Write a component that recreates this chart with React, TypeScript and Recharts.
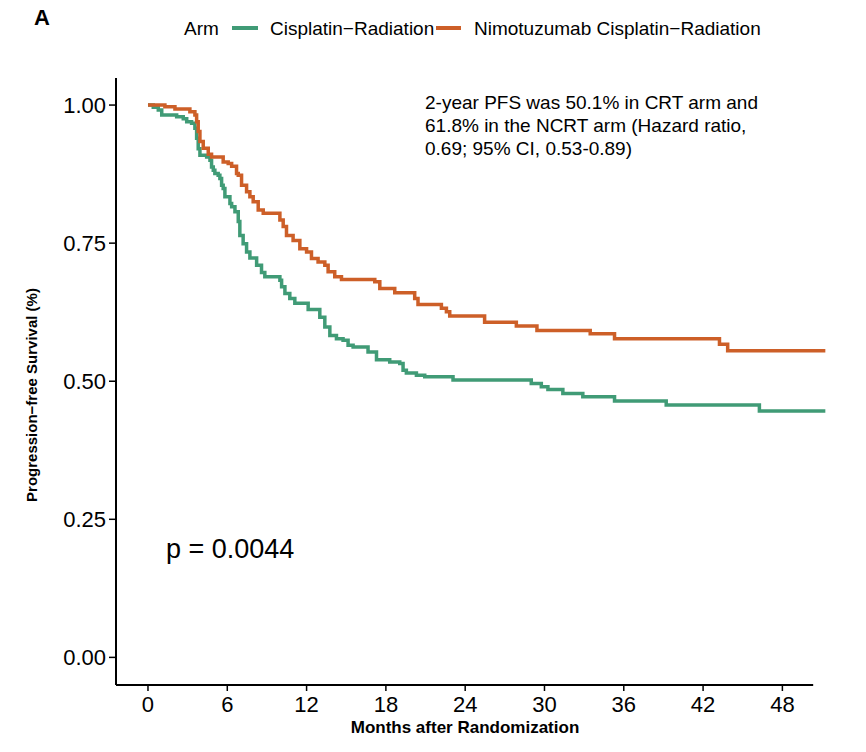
import React from 'react';
import { LineChart, Line, XAxis, YAxis, ReferenceLine } from 'recharts';

// months after randomization where each arm's curve steps down, with survival after the step
const crtMonths = [0, 0.4, 0.78, 1.04, 2.17, 2.67, 2.93, 3.3, 3.55, 3.68, 3.8, 3.93, 4.44, 4.69, 4.81, 4.94, 5.06, 5.31, 5.44, 5.57, 5.69, 5.82, 6.2, 6.33, 6.58, 6.83, 6.95, 7.2, 7.46, 7.71, 8.22, 8.59, 8.84, 9.98, 10.11, 10.36, 10.73, 11.11, 12.12, 13.0, 13.38, 13.76, 14.26, 14.76, 15.14, 15.52, 16.65, 17.29, 18.29, 19.05, 19.3, 19.55, 20.31, 20.94, 23.08, 29.0, 29.76, 30.26, 31.39, 32.9, 35.3, 39.21, 46.26, 51.25];
const crtSurv = [1.0, 0.996, 0.991, 0.982, 0.979, 0.975, 0.97, 0.967, 0.958, 0.94, 0.921, 0.909, 0.906, 0.9, 0.888, 0.882, 0.876, 0.873, 0.867, 0.855, 0.849, 0.834, 0.822, 0.816, 0.807, 0.789, 0.764, 0.749, 0.734, 0.723, 0.71, 0.697, 0.689, 0.683, 0.671, 0.659, 0.65, 0.641, 0.63, 0.616, 0.598, 0.583, 0.577, 0.574, 0.565, 0.562, 0.553, 0.539, 0.535, 0.532, 0.52, 0.515, 0.511, 0.508, 0.502, 0.496, 0.49, 0.485, 0.478, 0.472, 0.464, 0.457, 0.446, 0.446];

const ncrtMonths = [0, 1.28, 2.04, 3.17, 3.55, 3.68, 3.8, 3.93, 4.18, 4.56, 4.81, 5.69, 6.07, 6.33, 6.7, 6.83, 7.08, 7.46, 7.71, 7.96, 8.34, 8.72, 9.98, 10.23, 10.48, 10.98, 11.49, 12.0, 12.37, 12.87, 13.38, 13.63, 14.13, 14.64, 17.16, 17.54, 18.67, 20.18, 20.43, 22.2, 22.58, 22.83, 25.47, 27.87, 29.43, 33.46, 35.3, 43.24, 43.86, 51.25];
const ncrtSurv = [1.0, 0.997, 0.993, 0.988, 0.982, 0.97, 0.952, 0.934, 0.922, 0.911, 0.906, 0.897, 0.894, 0.889, 0.876, 0.873, 0.855, 0.843, 0.834, 0.825, 0.81, 0.804, 0.792, 0.78, 0.764, 0.755, 0.74, 0.734, 0.722, 0.716, 0.71, 0.698, 0.689, 0.684, 0.68, 0.668, 0.66, 0.65, 0.639, 0.632, 0.626, 0.618, 0.607, 0.6, 0.592, 0.586, 0.577, 0.567, 0.555, 0.555];

const xTicks = [0, 6, 12, 18, 24, 30, 36, 42, 48];
const yTicks = [0, 0.25, 0.5, 0.75, 1];

const GREEN = '#409B76';
const ORANGE = '#CD5F28';
const FONT = '"Liberation Sans", Arial, Helvetica, sans-serif';

const toRows = (months: number[], surv: number[]) => months.map((t, i) => ({ t, s: surv[i] }));

const crtData = toRows(crtMonths, crtSurv);
const ncrtData = toRows(ncrtMonths, ncrtSurv);

const X_MIN = -2.42;
const X_AXIS_END = 50.33;
const Y_MIN = -0.05;

export default function App() {
  return (
    <div style={{ position: 'absolute', left: 0, top: 0, width: 866, height: 752, fontFamily: FONT, background: '#fff' }}>
      <LineChart width={866} height={752} margin={{ top: 78, right: 40, bottom: 27, left: 56 }}>
        <XAxis
          dataKey="t"
          type="number"
          domain={[X_MIN, 51.3]}
          ticks={xTicks}
          allowDataOverflow
          axisLine={false}
          tickSize={6}
          tickMargin={5}
          height={40}
          tickLine={{ stroke: '#000', strokeWidth: 1.5 }}
          tick={{ fill: '#000', fontSize: 22 }}
        />
        <YAxis
          type="number"
          domain={[Y_MIN, 1.049]}
          ticks={yTicks}
          allowDataOverflow
          width={60}
          tickSize={7}
          tickMargin={3}
          tickFormatter={(v: number) => v.toFixed(2)}
          axisLine={{ stroke: '#000', strokeWidth: 2 }}
          tickLine={{ stroke: '#000', strokeWidth: 1.5 }}
          tick={{ fill: '#000', fontSize: 22 }}
        />
        <ReferenceLine
          segment={[{ x: X_MIN, y: Y_MIN }, { x: X_AXIS_END, y: Y_MIN }]}
          stroke="#000"
          strokeWidth={2}
          ifOverflow="visible"
        />
        <Line
          data={crtData}
          dataKey="s"
          type="stepAfter"
          stroke={GREEN}
          strokeWidth={3.5}
          dot={false}
          activeDot={false}
          isAnimationActive={false}
        />
        <Line
          data={ncrtData}
          dataKey="s"
          type="stepAfter"
          stroke={ORANGE}
          strokeWidth={3.5}
          dot={false}
          activeDot={false}
          isAnimationActive={false}
        />
      </LineChart>

      <svg width={866} height={752} style={{ position: 'absolute', left: 0, top: 0, pointerEvents: 'none' }}>
        <text x={34} y={25} fontSize={22} fontWeight="bold">A</text>

        <text x={184} y={35} fontSize={19}>Arm</text>
        <line x1={232} y1={28} x2={258} y2={28} stroke={GREEN} strokeWidth={4} />
        <text x={270} y={35} fontSize={19}>Cisplatin−Radiation</text>
        <line x1={436} y1={28} x2={461} y2={28} stroke={ORANGE} strokeWidth={4} />
        <text x={474} y={35} fontSize={19}>Nimotuzumab Cisplatin−Radiation</text>

        <text x={425} y={109} fontSize={19}>2-year PFS was 50.1% in CRT arm and</text>
        <text x={425} y={132} fontSize={19}>61.8% in the NCRT arm (Hazard ratio,</text>
        <text x={425} y={155} fontSize={19}>0.69; 95% CI, 0.53-0.89)</text>

        <text x={166} y={558} fontSize={27}>p = 0.0044</text>

        <text x={465} y={733} fontSize={17} fontWeight="bold" textAnchor="middle">Months after Randomization</text>
        <text
          x={0}
          y={0}
          fontSize={15}
          fontWeight="bold"
          textAnchor="middle"
          transform="translate(37 395) rotate(-90)"
        >
          Progression−free Survival (%)
        </text>
      </svg>
    </div>
  );
}
